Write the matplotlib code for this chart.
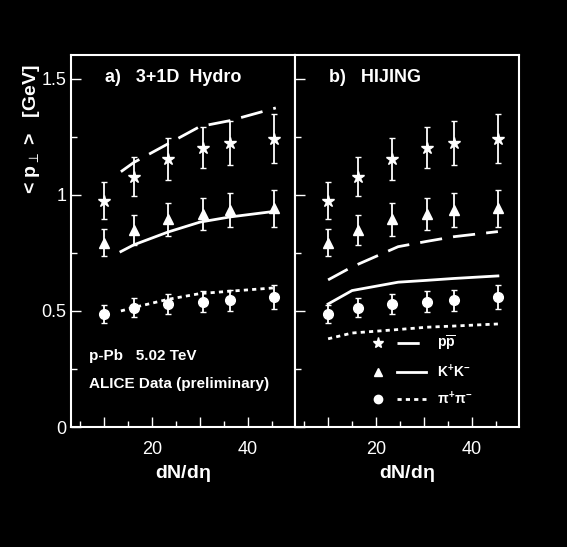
import matplotlib
matplotlib.use("Agg")
import matplotlib.pyplot as plt
from matplotlib.ticker import MultipleLocator, FixedLocator
from matplotlib.lines import Line2D
from matplotlib.legend_handler import HandlerTuple

plt.rcParams['font.family'] = ['Liberation Sans', 'DejaVu Sans']
plt.rcParams['mathtext.fontset'] = 'custom'
plt.rcParams['mathtext.rm'] = 'Liberation Sans:bold'
plt.rcParams['mathtext.it'] = 'Liberation Sans:bold'
plt.rcParams['mathtext.bf'] = 'Liberation Sans:bold'

x_data = [9.9, 16.2, 23.3, 30.6, 36.2, 45.4]
p_data = [0.975, 1.079, 1.155, 1.204, 1.223, 1.243]
p_err = [0.08, 0.085, 0.09, 0.09, 0.095, 0.105]
k_data = [0.795, 0.849, 0.895, 0.918, 0.935, 0.943]
k_err = [0.06, 0.065, 0.07, 0.07, 0.075, 0.08]
pi_data = [0.487, 0.514, 0.53, 0.539, 0.547, 0.56]
pi_err = [0.04, 0.04, 0.045, 0.045, 0.045, 0.05]

hydro_x = [13.5, 16.2, 23.3, 30.0, 36.2, 45.8]
hydro_p = [1.10, 1.14, 1.22, 1.295, 1.32, 1.375]
hydro_k = [0.756, 0.785, 0.84, 0.883, 0.905, 0.93]
hydro_pi = [0.50, 0.515, 0.55, 0.575, 0.585, 0.60]

hij_x = [10.0, 15.0, 24.6, 30.6, 36.2, 45.4]
hij_p = [0.634, 0.69, 0.777, 0.80, 0.82, 0.842]
hij_k = [0.53, 0.588, 0.624, 0.632, 0.64, 0.651]
hij_pi = [0.38, 0.405, 0.42, 0.43, 0.435, 0.444]

y_ticks = [0, 0.5, 1, 1.5]
y_labels = ['0', '0.5', '1', '1.5']

fig = plt.figure(figsize=(5.67, 5.47), dpi=100, facecolor='black')
w = 224/567
axs = [fig.add_axes([71/567, 1-427/547, w, 372/547]),
       fig.add_axes([71/567 + w, 1-427/547, w, 372/547])]

for i, ax in enumerate(axs):
    ax.set_facecolor('black')
    for s in ax.spines.values():
        s.set_color('white'); s.set_linewidth(1.5)
    ax.set_xlim(3.1, 49.8)
    ax.set_ylim(0, 1.603)
    ax.xaxis.set_major_locator(FixedLocator([10, 20, 30, 40]))
    ax.set_xticklabels(['', '20', '', '40'])
    ax.xaxis.set_minor_locator(MultipleLocator(5))
    ax.yaxis.set_major_locator(FixedLocator(y_ticks))
    ax.yaxis.set_minor_locator(FixedLocator([0.25, 0.75, 1.25]))
    ax.tick_params(colors='white', direction='in', labelsize=13, which='both', length=7, width=1)
    ax.tick_params(which='minor', length=4)
    ax.tick_params(axis='x', pad=10)
    ax.set_xlabel(r'dN/d$\eta$', color='white', fontsize=14, fontweight='bold')
    kw = dict(color='white', ecolor='white', elinewidth=1.3, capsize=2.5, linestyle='none')
    ax.errorbar(x_data, p_data, yerr=p_err, marker='*', markersize=9, **kw)
    ax.errorbar(x_data, k_data, yerr=k_err, marker='^', markersize=7, **kw)
    ax.errorbar(x_data, pi_data, yerr=pi_err, marker='o', markersize=7, **kw)

ax = axs[0]
ax.set_yticklabels(y_labels)
ax.set_ylabel(r'< p$_{\perp}$ >   [GeV]', color='white', fontsize=14, fontweight='bold', ha='right')
ax.yaxis.set_label_coords(-0.13, 0.975)
ax.plot(hydro_x, hydro_p, color='white', lw=2, dashes=(8, 4))
ax.plot(hydro_x, hydro_k, color='white', lw=2)
ax.plot(hydro_x, hydro_pi, color='white', lw=2, dashes=(1.5, 1.5))
ax.text(0.15, 0.94, 'a)   3+1D  Hydro', transform=ax.transAxes, color='white', fontsize=13, fontweight='bold', va='center')
ax.text(0.08, 0.19, 'p-Pb   5.02 TeV', transform=ax.transAxes, color='white', fontsize=11, fontweight='bold', va='center')
ax.text(0.08, 0.115, 'ALICE Data (preliminary)', transform=ax.transAxes, color='white', fontsize=11, fontweight='bold', va='center')

ax = axs[1]
ax.tick_params(axis='y', which='both', left=True, labelleft=False)
l1, = ax.plot(hij_x, hij_p, color='white', lw=2, dashes=(8, 4))
l2, = ax.plot(hij_x, hij_k, color='white', lw=2)
l3, = ax.plot(hij_x, hij_pi, color='white', lw=2, dashes=(1.5, 1.5))
ax.text(0.15, 0.94, 'b)   HIJING', transform=ax.transAxes, color='white', fontsize=13, fontweight='bold', va='center')
h = [(Line2D([], [], color='white', marker='*', ls='none', ms=8), l1),
     (Line2D([], [], color='white', marker='^', ls='none', ms=6), l2),
     (Line2D([], [], color='white', marker='o', ls='none', ms=6), l3)]
ax.legend(h, [r'p$\overline{\mathrm{p}}$', r'K$^{+}$K$^{-}$', r'$\pi^{+}\pi^{-}$'],
          handler_map={tuple: HandlerTuple(ndivide=None, pad=0.3)},
          loc='lower left', bbox_to_anchor=(0.25, 0.02), frameon=False,
          labelcolor='white', prop={'size': 10, 'weight': 'bold'}, handlelength=4.5, labelspacing=0.7)

fig.savefig('out.png', dpi=100, facecolor='black')
